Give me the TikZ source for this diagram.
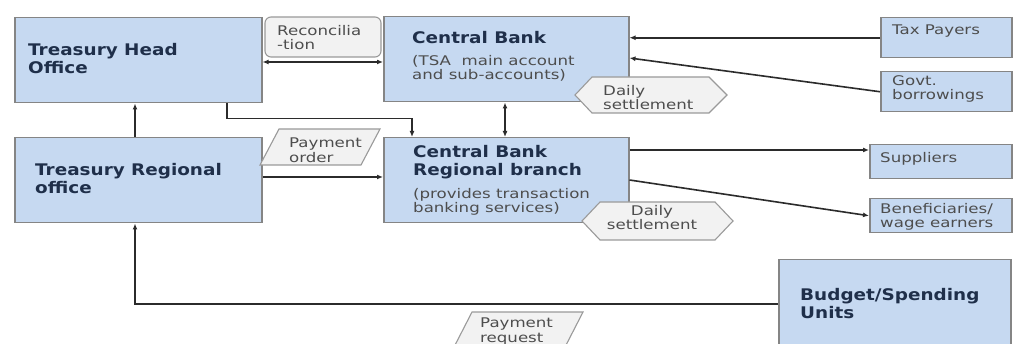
\documentclass[tikz,border=0pt]{standalone}
\usepackage{fontspec}
\usetikzlibrary{arrows.meta}
\newfontfamily\headf[FakeStretch=1.15]{DejaVu Sans}
\newfontfamily\smallf[FakeStretch=1.25]{DejaVu Sans}
\definecolor{boxfill}{HTML}{C6D9F1}
\definecolor{boxdraw}{HTML}{858585}
\definecolor{headtext}{HTML}{1F2F4A}
\definecolor{smalltext}{HTML}{4D4D4D}
\definecolor{labfill}{HTML}{F2F2F2}
\definecolor{labdraw}{HTML}{9A9A9A}
\definecolor{linecol}{HTML}{2B2B2B}
\tikzset{
  box/.style={draw=boxdraw, line width=1.5pt, fill=boxfill, anchor=north west, inner sep=0pt},
  headtxt/.style={anchor=north west, inner sep=0pt, align=left, text=headtext,
    font=\headf\bfseries\fontsize{16}{18}\selectfont},
  smalltxt/.style={anchor=north west, inner sep=0pt, align=left, text=smalltext,
    font=\smallf\fontsize{13.3}{14.5}\selectfont},
  labshape/.style={draw=labdraw, line width=1.1pt, fill=labfill},
  conn/.style={draw=linecol, line width=1.6pt, arrows={-Latex[length=6pt,width=5pt]}},
  conn2/.style={draw=linecol, line width=1.6pt, arrows={Latex[length=6pt,width=5pt]-Latex[length=6pt,width=5pt]}},
}
\begin{document}
\begin{tikzpicture}[x=1pt,y=-1pt]
\useasboundingbox (0,0) rectangle (1016,344);
\clip (0,0) rectangle (1016,344);
\fill[white] (0,0) rectangle (1016,344);

% boxes
\node[box, minimum width=247pt, minimum height=85pt] (tho) at (14,17) {};
\node[box, minimum width=247pt, minimum height=85pt] (tro) at (14,137) {};
\node[box, minimum width=245pt, minimum height=85pt] (cb) at (383,16) {};
\node[box, minimum width=245pt, minimum height=85pt] (cbrb) at (383,137) {};
\node[box, minimum width=131pt, minimum height=40pt] (tax) at (880,17) {};
\node[box, minimum width=131pt, minimum height=40pt] (govt) at (880,71) {};
\node[box, minimum width=142pt, minimum height=34pt] (sup) at (869,144) {};
\node[box, minimum width=142pt, minimum height=34pt] (ben) at (869,198) {};
\node[box, minimum width=232pt, minimum height=90pt] (bud) at (778,259) {};

% texts in boxes
\node[headtxt] (thoT) at (28,43) {Treasury Head\\Office};
\node[headtxt] (troT) at (35,163) {Treasury Regional\\office};
\node[headtxt] (cbT) at (412,31) {Central Bank};
\node[smalltxt] (cbS) at (412,55) {(TSA\ \ main account\\and sub-accounts)};
\node[headtxt] (cbrbT) at (413,145) {Central Bank\\Regional branch};
\node[smalltxt] (cbrbS) at (413,188) {(provides transaction\\banking services)};
\node[smalltxt] (taxT) at (892,25) {Tax Payers};
\node[smalltxt] (govtT) at (892,75) {Govt.\\borrowings};
\node[smalltxt] (supT) at (880,152) {Suppliers};
\node[smalltxt] (benT) at (880,203) {Beneficiaries/\\wage earners};
\node[headtxt] (budT) at (800,288) {Budget/Spending\\Units};

% helper coordinates
\coordinate (h62) at (0,62);
\coordinate (h58) at (0,58);
\coordinate (h150) at (0,150);
\coordinate (h177) at (0,177);
\coordinate (h180) at (0,180);
\coordinate (h304) at (0,304);
\coordinate (v135) at (135,0);
\coordinate (v227) at (227,0);
\coordinate (v412) at (412,0);
\coordinate (v505) at (505,0);

% connectors
\draw[conn2] (tho.east |- h62) -- (cb.west |- h62);
\draw[conn] (tho.south -| v227) -- ++(0,15) -| (cbrb.north -| v412);
\draw[conn] (tro.north -| v135) -- (tho.south -| v135);
\draw[conn] (tro.east |- h177) -- (cbrb.west |- h177);
\draw[conn2] (cb.south -| v505) -- (cbrb.north -| v505);
\draw[conn] (tax.west) -- (cb.east |- tax.west);
\draw[conn] (govt.west) -- (cb.east |- h58);
\draw[conn] (cbrb.east |- h150) -- (sup.west |- h150);
\draw[conn] (cbrb.east |- h180) -- (ben.west);
\draw[conn] (bud.west |- h304) -| (tro.south -| v135);

% label shapes
\draw[labshape, rounded corners=6pt] (265,17) rectangle (381,57);
\node[smalltxt] (recT) at (277,25) {Reconcilia\\-tion};

\draw[labshape] (260,165) -- (279,129) -- (380,129) -- (361,165) -- cycle;
\node[smalltxt] (poT) at (289,138) {Payment\\order};

\draw[labshape] (575,95) -- (592,77) -- (709,77) -- (727,95) -- (709,113) -- (592,113) -- cycle;
\node[smalltxt] (ds1T) at (603,85) {Daily\\settlement};

\draw[labshape] (582,221) -- (600,202) -- (715,202) -- (733,221) -- (715,240) -- (600,240) -- cycle;
\node[smalltxt, anchor=north, align=center] (ds2T) at (652,205) {Daily\\settlement};

\draw[labshape] (452,351) -- (472,312) -- (583,312) -- (563,351) -- cycle;
\node[smalltxt] (prT) at (480,318) {Payment\\request};
\end{tikzpicture}
\end{document}
